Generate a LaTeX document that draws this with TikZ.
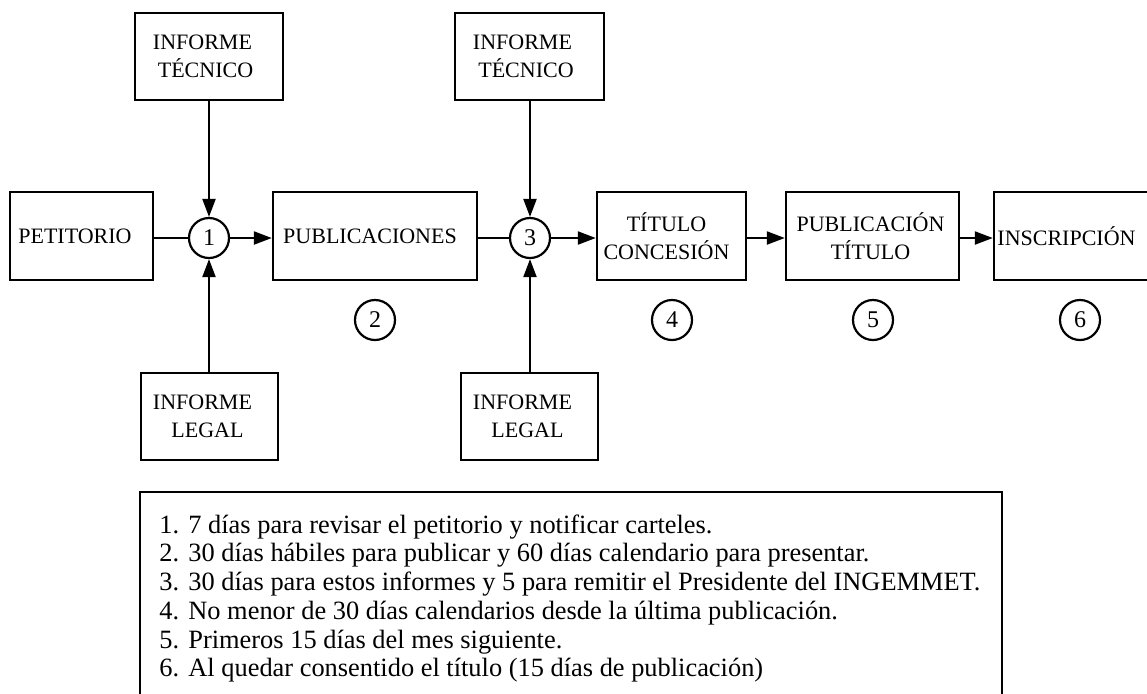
\documentclass[tikz,border=0pt]{standalone}
\usepackage{fontspec}
\setmainfont{Liberation Serif}
\usetikzlibrary{arrows.meta}
\begin{document}
\begin{tikzpicture}[x=0.5pt,y=-0.5pt,
  box/.style={draw, line width=1.2pt, minimum height=43.5pt, inner sep=0pt,
    align=center, font=\fontsize{11}{14}\selectfont},
  junc/.style={draw, circle, line width=1.1pt, minimum size=20pt, inner sep=0pt,
    font=\fontsize{12}{12}\selectfont},
  num/.style={draw, circle, line width=1.1pt, minimum size=20pt, inner sep=0pt,
    font=\fontsize{12}{12}\selectfont},
  link/.style={line width=1.1pt},
  arr/.style={line width=1.1pt, -{Triangle[length=9pt,width=6.5pt]}},
  note/.style={anchor=base west, inner sep=0pt, font=\fontsize{13.2}{14}\selectfont}
]
\useasboundingbox (0,0) rectangle (1147,693);
\clip (0,0) rectangle (1147,693);

% boxes
\node[box, minimum width=74pt] (tec1) at (209,56.5) {INFORME\kern6.5pt\\TÉCNICO\kern3.5pt};
\node[box, minimum width=68.5pt] (leg1) at (209.5,416.5) {INFORME\kern7pt\\LEGAL\kern2pt};
\node[box, minimum width=71.5pt, minimum height=44pt] (pet) at (81.5,236) {PETITORIO\kern6.5pt};
\node[box, minimum width=102pt, minimum height=44pt] (pub) at (375,236) {PUBLICACIONES\kern5pt};
\node[box, minimum width=74.5pt] (tec2) at (529.5,56.5) {INFORME\kern7pt\\TÉCNICO\kern3.5pt};
\node[box, minimum width=68.5pt] (leg2) at (529.5,416.5) {INFORME\kern7pt\\LEGAL\kern2pt};
\node[box, minimum width=74.5pt, minimum height=44pt] (tit) at (671.5,236) {TÍTULO\kern5pt\\CONCESIÓN\kern5pt};
\node[box, minimum width=86.5pt, minimum height=44pt] (pubt) at (872.5,236) {PUBLICACIÓN\kern2pt\\TÍTULO\kern2pt};
\node[box, minimum width=83pt, minimum height=44pt] (ins) at (1077,236) {INSCRIPCIÓN\kern10.5pt};

% junctions
\node[junc] (c1) at (209,238) {1};
\node[junc] (c3) at (530,238) {3};

% step numbers
\node[num] (s2) at (375,320) {2};
\node[num] (s4) at (672,320) {4};
\node[num] (s5) at (873,320) {5};
\node[num] (s6) at (1080,320) {6};

% connectors
\draw[link] (c1.west -| pet.east) -- (c1.west);
\draw[arr] (tec1.south -| c1.north) -- (c1.north);
\draw[arr] (leg1.north -| c1.south) -- (c1.south);
\draw[arr] (c1.east) -- (c1.east -| pub.west);
\draw[link] (c3.west -| pub.east) -- (c3.west);
\draw[arr] (tec2.south -| c3.north) -- (c3.north);
\draw[arr] (leg2.north -| c3.south) -- (c3.south);
\draw[arr] (c3.east) -- (c3.east -| tit.west);
\draw[arr] (c3.east -| tit.east) -- (c3.east -| pubt.west);
\draw[arr] (c3.east -| pubt.east) -- (c3.east -| ins.west);

% notes frame
\draw[line width=1.2pt] (140,492) rectangle (1002,720);
\node[note] (n1) at (159,533) {\makebox[14.5pt][l]{1.}7 días para revisar el petitorio y notificar carteles.};
\node[note] (n2) at (159,561.75) {\makebox[14.5pt][l]{2.}30 días hábiles para publicar y 60 días calendario para presentar.};
\node[note] (n3) at (159,590.5) {\makebox[14.5pt][l]{3.}30 días para estos informes y 5 para remitir el Presidente del INGEMMET.};
\node[note] (n4) at (159,619.25) {\makebox[14.5pt][l]{4.}No menor de 30 días calendarios desde la última publicación.};
\node[note] (n5) at (159,648) {\makebox[14.5pt][l]{5.}Primeros 15 días del mes siguiente.};
\node[note] (n6) at (159,676.75) {\makebox[14.5pt][l]{6.}Al quedar consentido el título (15 días de publicación)};
\end{tikzpicture}
\end{document}
